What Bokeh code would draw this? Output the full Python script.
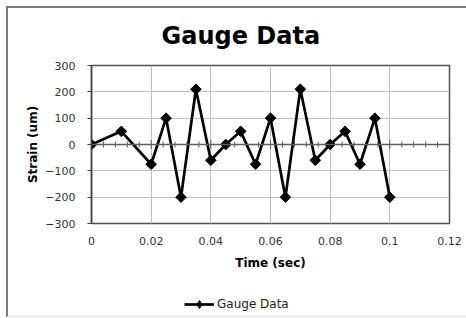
from bokeh.plotting import figure
from bokeh.layouts import column
from bokeh.models import FixedTicker, Span, Legend, LegendItem, Title
from bokeh.embed import file_html
from bokeh.resources import INLINE
import numpy as np

# Data
time_sec = [0, 0.01, 0.02, 0.025, 0.03, 0.035, 0.04, 0.045, 0.05, 0.055,
            0.06, 0.065, 0.07, 0.075, 0.08, 0.085, 0.09, 0.095, 0.1]
strain_um = [0, 50, -75, 100, -200, 210, -60, 0, 50, -75,
             100, -200, 210, -60, 0, 50, -75, 100, -200]
x_ticks = [0, 0.02, 0.04, 0.06, 0.08, 0.1, 0.12]
x_tick_labels = {0: "0", 0.02: "0.02", 0.04: "0.04", 0.06: "0.06", 0.08: "0.08", 0.1: "0.1", 0.12: "0.12"}
y_ticks = [-300, -200, -100, 0, 100, 200, 300]
series_name = "Gauge Data"
chart_title = "Gauge Data"

FONT = "DejaVu Sans"

p = figure(width=458, height=275, output_backend="svg", toolbar_location=None,
           x_range=(0, 0.12), y_range=(-300, 300),
           min_border_left=83, min_border_right=17, min_border_top=56, min_border_bottom=60)

p.title = Title(text=chart_title, align="left", offset=70, text_font=FONT,
                text_font_size="24px", text_font_style="bold", text_color="#000000",
                standoff=27, vertical_align="top")

# Axes
p.xaxis.ticker = FixedTicker(ticks=x_ticks)
p.xaxis.major_label_overrides = x_tick_labels
p.yaxis.ticker = FixedTicker(ticks=y_ticks)
for ax in (p.xaxis, p.yaxis):
    ax.major_label_text_font = FONT
    ax.major_label_text_font_size = "11px"
    ax.major_label_text_color = "#333333"
    ax.axis_label_text_font = FONT
    ax.axis_label_text_font_size = "12px"
    ax.axis_label_text_font_style = "bold"
    ax.axis_label_text_color = "#000000"
    ax.minor_tick_line_color = None

p.xaxis.axis_label = "Time (sec)"
p.xaxis.axis_line_color = None
p.xaxis.major_tick_line_color = None
p.xaxis.major_label_standoff = 7
p.xaxis.axis_label_standoff = 8

p.yaxis.axis_label = "Strain (um)"
p.yaxis.axis_line_color = "#404040"
p.yaxis.axis_line_width = 1.5
p.yaxis.major_tick_line_color = "#404040"
p.yaxis.major_tick_out = 4
p.yaxis.major_tick_in = 0
p.yaxis.major_label_standoff = 12
p.yaxis.axis_label_standoff = 2

p.xgrid.grid_line_color = "#c0c0c0"
p.ygrid.grid_line_color = "#c0c0c0"
p.xgrid.ticker = FixedTicker(ticks=x_ticks)
p.ygrid.ticker = FixedTicker(ticks=y_ticks)

p.outline_line_color = "#505050"
p.outline_line_width = 1.5
p.background_fill_color = "white"
p.border_fill_color = "white"

# zero axis line with minor ticks
p.add_layout(Span(location=0, dimension="width", line_color="#606060", line_width=1.5))
minor = [t for t in np.round(np.arange(0.004, 0.12, 0.004), 4) if abs((t / 0.02) - round(t / 0.02)) > 1e-6]
p.scatter(minor, [0] * len(minor), marker="dash", angle=np.pi / 2, size=6, line_color="#606060", line_width=1)
p.scatter(x_ticks[1:-1], [0] * (len(x_ticks) - 2), marker="dash", angle=np.pi / 2, size=9, line_color="#606060", line_width=1)

p.line(time_sec, strain_um, line_color="black", line_width=2.7)
p.scatter(time_sec, strain_um, marker="square", angle=np.pi / 4, size=7.5,
          fill_color="black", line_color="black")

# legend strip (series drawn off-view so only the legend shows)
p2 = figure(width=458, height=33, output_backend="svg", toolbar_location=None,
            x_axis_location=None, y_axis_location=None,
            x_range=(0, 1), y_range=(1000, 1001), min_border=0)
p2.grid.visible = False
p2.outline_line_color = None
p2.border_fill_color = "white"
l_line = p2.line(time_sec, strain_um, line_color="black", line_width=2.7)
l_pts = p2.scatter(time_sec, strain_um, marker="diamond", size=11,
                   fill_color="black", line_color="black")
legend = Legend(items=[LegendItem(label=series_name, renderers=[l_line, l_pts])],
                location=(93, 2), orientation="horizontal",
                label_text_font=FONT, label_text_font_size="12px", label_text_color="#222222",
                border_line_color=None, background_fill_alpha=0,
                padding=0, margin=0, glyph_width=30, label_standoff=3, spacing=0)
p2.add_layout(legend, "center")

layout = column(p, p2, spacing=0)
layout.styles = {"border-top": "2px solid #7a7a7a", "border-left": "2px solid #7a7a7a",
                 "border-bottom": "1px solid #e0e0e0", "margin-left": "6px", "margin-top": "6px"}

open("out.html", "w").write(file_html(layout, INLINE))
